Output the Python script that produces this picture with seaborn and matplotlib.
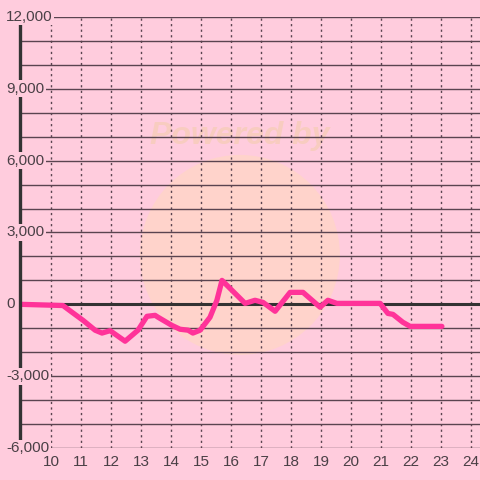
import matplotlib
matplotlib.use("Agg")
import matplotlib.pyplot as plt
from matplotlib.patches import Ellipse
from matplotlib.transforms import blended_transform_factory
import seaborn as sns
import pandas as pd

# hour of day and running balance
hours = [9.0, 10.4, 10.7, 11.07, 11.47, 11.7, 11.97, 12.47, 12.9, 13.2, 13.47,
         13.57, 14.03, 14.3, 14.57, 14.73, 14.97, 15.3, 15.53, 15.7, 16.47,
         16.8, 17.07, 17.47, 17.97, 18.4, 18.97, 19.23, 19.53, 20.97, 21.23,
         21.4, 21.73, 21.97, 23.03]
balance = [0, -50, -330, -670, -1080, -1200, -1100, -1540, -1080, -500, -460,
           -540, -880, -1040, -1080, -1200, -1080, -540, 170, 1000, 40,
           170, 80, -290, 500, 500, -120, 170, 40, 40, -380,
           -420, -750, -920, -920]
x_ticks = list(range(10, 25))
y_ticks = list(range(-6000, 12001, 3000))
y_minor = list(range(-6000, 12001, 1000))

df = pd.DataFrame({"hour": hours, "balance": balance})

bg = "#FFCCDD"
grid_col = "#5a4450"
dark = "#333333"
text_col = "#4a4046"

sns.set_style("white")
plt.rcParams["font.family"] = ["Liberation Sans", "DejaVu Sans"]

fig = plt.figure(figsize=(4.8, 4.8), dpi=100, facecolor=bg)
ax = fig.add_axes([20 / 480, 32 / 480, 460 / 480, 431 / 480])
ax.set_facecolor(bg)
ax.set_xlim(10 - 31 / 30, 10 + 429 / 30)
ax.set_ylim(-6000, 12000)

# faint watermark
ax.add_patch(Ellipse((0.478, 0.448), 200 / 460, 200 / 431, transform=ax.transAxes,
                     facecolor="#FFD6C4", alpha=0.7, edgecolor="none", zorder=0))
ax.text(0.478, 0.725, "Powered by", transform=ax.transAxes, ha="center", va="center",
        fontsize=23, fontweight="bold", fontstyle="italic", color="#F8CCC0", zorder=0.5)

for v in y_minor:
    ax.axhline(v, color=grid_col, lw=1.0, zorder=1)
for v in x_ticks:
    ax.axvline(v, color=grid_col, lw=1.0, ls=(0, (1.6, 2.4)), zorder=1)
ax.axhline(0, color=dark, lw=2.2, zorder=2)

sns.lineplot(data=df, x="hour", y="balance", color="#FF3399", lw=3.8, ax=ax, zorder=3)

for s in ["top", "right", "bottom"]:
    ax.spines[s].set_visible(False)
ax.spines["left"].set_color(dark)
ax.spines["left"].set_linewidth(2.4)
ax.spines["left"].set_zorder(4)

ax.set_xticks(x_ticks)
ax.set_xticklabels([str(t) for t in x_ticks], fontsize=11, color=text_col)
ax.tick_params(axis="x", length=0, pad=5)
ax.set_yticks([])
ax.set_xlabel("")
ax.set_ylabel("")

label_tr = blended_transform_factory(fig.transFigure, ax.transData)
for v in y_ticks:
    ax.text(6 / 480, v, f"{v:,}", transform=label_tr,
            ha="left", va="center", fontsize=11, color=text_col, zorder=5,
            bbox=dict(facecolor=bg, edgecolor="none", pad=1.0))

fig.savefig("out.png", dpi=100, facecolor=bg)
